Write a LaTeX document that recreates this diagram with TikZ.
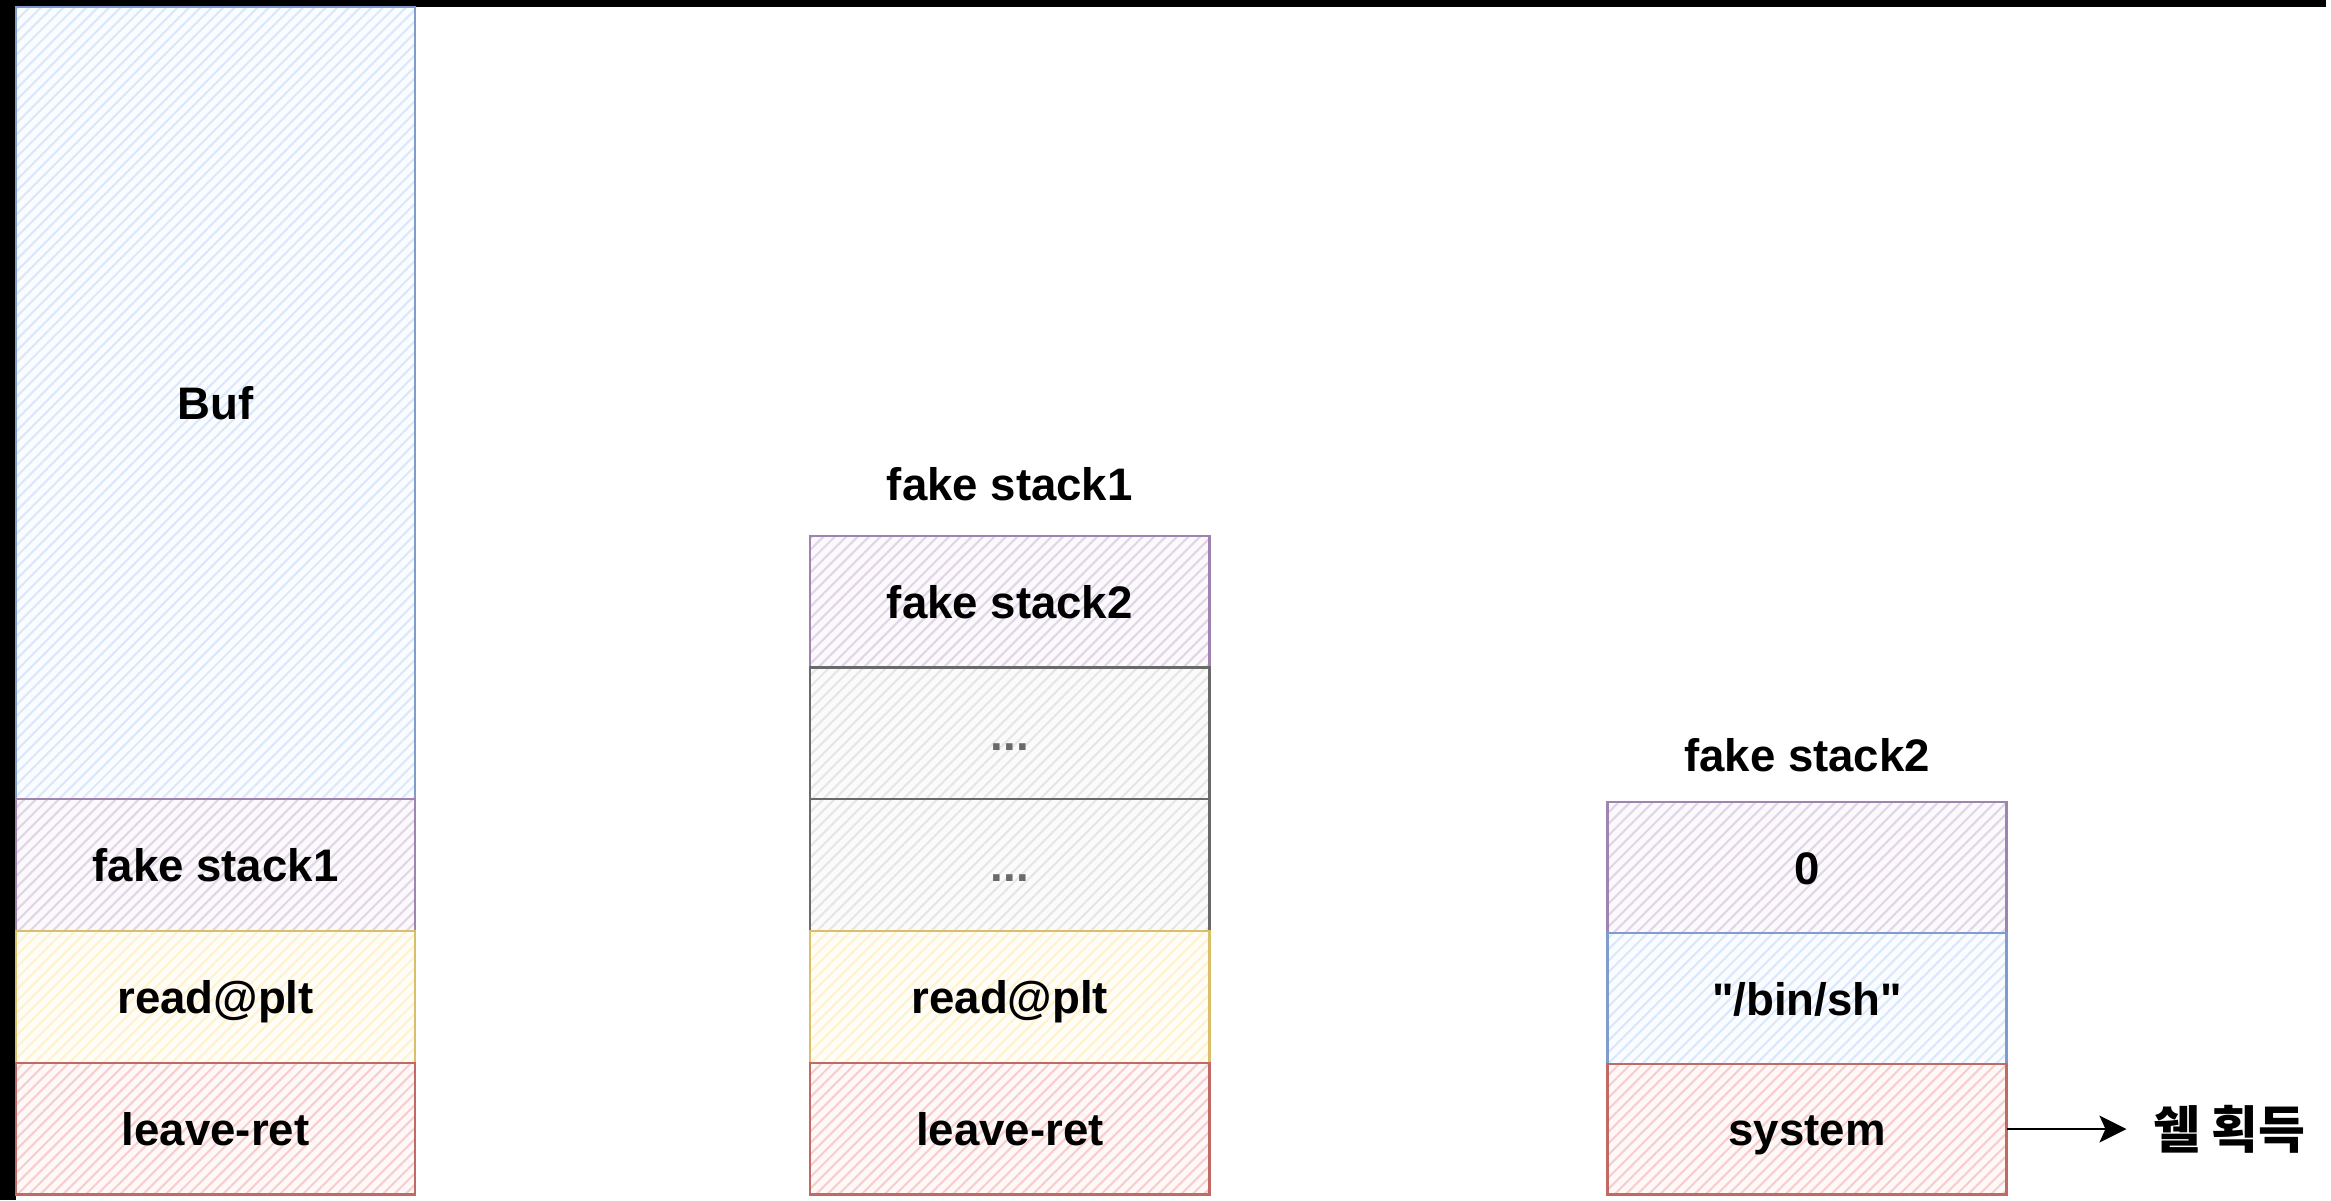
\documentclass[tikz,border=0pt]{standalone}
\usepackage{fontspec}
\setmainfont{Liberation Sans}[Ligatures=TeXOff]
\newfontfamily\krfont{Noto Sans CJK KR}
\usetikzlibrary{arrows.meta, positioning, patterns.meta}
\definecolor{stBlue}{HTML}{DAE8FC}
\definecolor{stBlueLine}{HTML}{7F9CCB}
\definecolor{stPurple}{HTML}{E1D5E7}
\definecolor{stPurpleLine}{HTML}{9F84B0}
\definecolor{stYellow}{HTML}{FFF2CC}
\definecolor{stYellowLine}{HTML}{D9BF6A}
\definecolor{stRed}{HTML}{F8CECC}
\definecolor{stRedLine}{HTML}{C06A66}
\definecolor{stGray}{HTML}{E6E6E6}
\definecolor{stGrayLine}{HTML}{6A6A6A}

\begin{document}
\begin{tikzpicture}[x=0.1mm, y=-0.1mm,
  cell/.style={rectangle, minimum width=40mm, minimum height=13.2mm,
    inner sep=0pt, outer sep=0pt, line width=0.24mm,
    text height=1.1em, text depth=0.15em,
    font=\fontsize{13}{15}\selectfont\bfseries},
  hatch/.style={draw=#1Line, preaction={fill=#1!14!white},
    pattern={Lines[angle=45, distance=2.3pt, line width=0.6pt]},
    pattern color=#1},
  title/.style={inner sep=0pt, font=\fontsize{13}{15}\selectfont\bfseries},
  arrowline/.style={-{Stealth[length=2.7mm, width=2.7mm, inset=0.6mm]},
    line width=0.22mm, black}
]
  % page and screenshot edges
  \fill[white] (0,0) rectangle (2331,1203);
  \fill[black] (0,0) rectangle (2331,7);
  \fill[black] (0,0) rectangle (16,1203);

  % stack with the overflowed buffer
  \node[cell, hatch=stBlue, minimum height=79.4mm, anchor=north west]
    (buf) at (16,7) {Buf};
  \node[cell, hatch=stPurple, below=0pt of buf]      (bufFake)  {fake stack1};
  \node[cell, hatch=stYellow, below=0pt of bufFake]  (bufRead)  {read@plt};
  \node[cell, hatch=stRed, below=0pt of bufRead]     (bufLeave) {leave-ret};

  % fake stack1
  \node[cell, hatch=stPurple, anchor=north west] (fsOne) at (812,537) {fake stack2};
  \node[cell, hatch=stGray, text=stGrayLine, below=0pt of fsOne]   (fsOneDotsA) {...};
  \node[cell, hatch=stGray, text=stGrayLine, below=0pt of fsOneDotsA] (fsOneDotsB) {...};
  \node[cell, hatch=stYellow, below=0pt of fsOneDotsB] (fsOneRead)  {read@plt};
  \node[cell, hatch=stRed, below=0pt of fsOneRead]     (fsOneLeave) {leave-ret};
  \node[title, above=3.4mm of fsOne] (fsOneTitle) {fake stack1};

  % fake stack2
  \node[cell, hatch=stPurple, minimum height=13.1mm, anchor=north west]
    (fsTwo) at (1611,804) {0};
  \node[cell, hatch=stBlue, minimum height=13.1mm, below=0pt of fsTwo]
    (fsTwoBin) {"/bin/sh"};
  \node[cell, hatch=stRed, minimum height=13.1mm, below=0pt of fsTwoBin]
    (fsTwoSys) {system};
  \node[title, above=3.0mm of fsTwo] (fsTwoTitle) {fake stack2};

  \node[inner xsep=2.6mm, inner ysep=0pt, right=12.0mm of fsTwoSys,
    font=\krfont\bfseries\fontsize{14.5}{17}\selectfont] (shell) {쉘 획득};
  \draw[arrowline] (fsTwoSys) -- (shell);
\end{tikzpicture}
\end{document}
